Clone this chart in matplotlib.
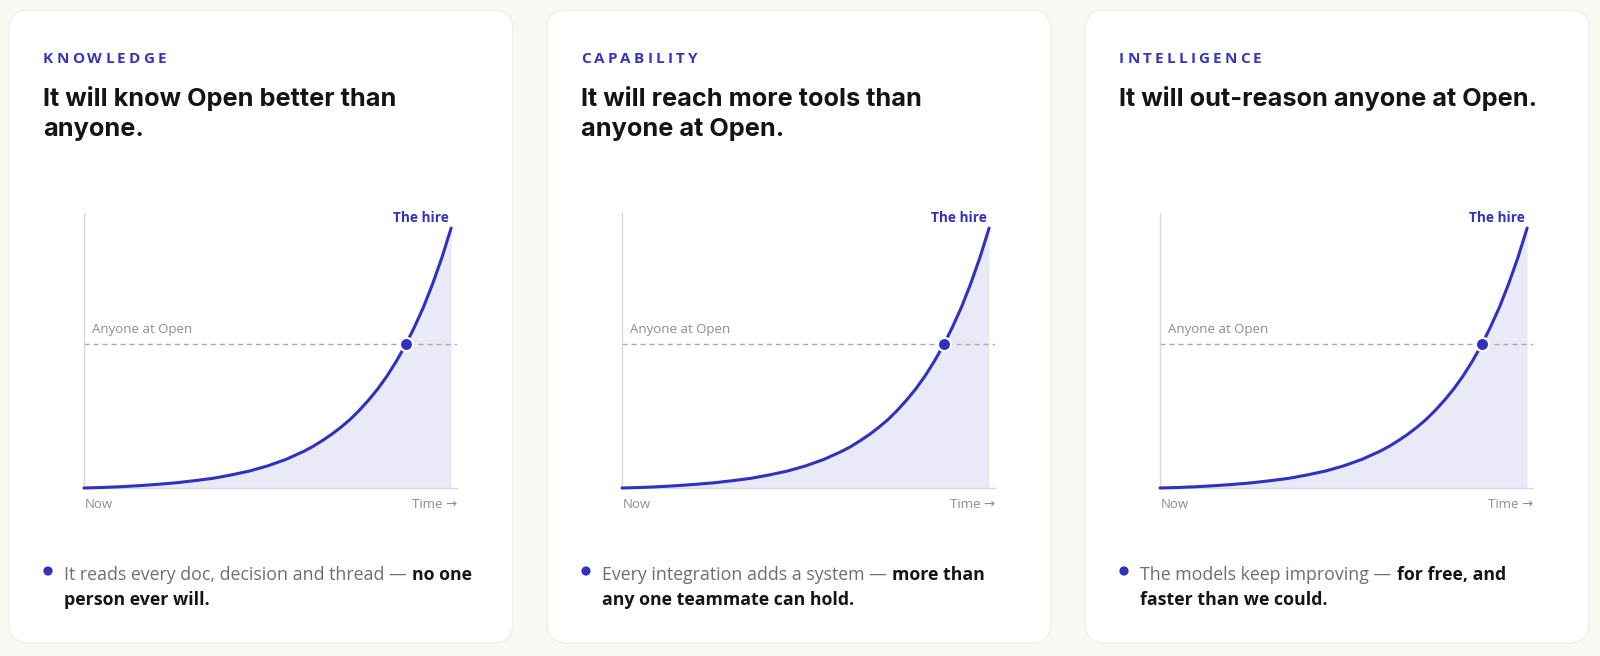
import matplotlib
matplotlib.use('Agg')
import matplotlib.pyplot as plt
from matplotlib.patches import FancyBboxPatch, Circle

# growth curve (time as fraction of the axis, value in % of end point)
time_pts = [0.0, 0.05, 0.10, 0.15, 0.20, 0.25, 0.30, 0.35, 0.40, 0.45, 0.50,
            0.55, 0.60, 0.625, 0.65, 0.675, 0.70, 0.725, 0.75, 0.775, 0.80,
            0.825, 0.85, 0.875, 0.90, 0.925, 0.95, 0.975, 1.0]
hire_pts = [0.0, 0.2, 0.5, 0.9, 1.4, 2.0, 2.8, 3.7, 5.0, 6.5, 8.5,
            11.0, 14.2, 16.1, 18.3, 20.7, 23.4, 26.4, 29.9, 33.8, 38.1,
            43.0, 48.6, 54.8, 61.9, 69.7, 78.7, 88.7, 100.0]
anyone_level = 55.4
cross_t = 0.877
t_max = 1.016
y_max = 105.8

eyebrows = ['KNOWLEDGE', 'CAPABILITY', 'INTELLIGENCE']
titles = [['It will know Open better than', 'anyone.'],
          ['It will reach more tools than', 'anyone at Open.'],
          ['It will out-reason anyone at Open.']]
notes_plain = ['It reads every doc, decision and thread \u2014',
               'Every integration adds a system \u2014',
               'The models keep improving \u2014']
notes_bold1 = ['no one', 'more than', 'for free, and']
notes_bold2 = ['person ever will.', 'any one teammate can hold.', 'faster than we could.']

BLUE = '#3131BF'
W, H = 1600, 656
SANS = ['Open Sans', 'DejaVu Sans']
HEAD = ['Inter', 'DejaVu Sans']

fig = plt.figure(figsize=(16, 6.56), dpi=100)
fig.patch.set_facecolor('#F9F9F4')
bg = fig.add_axes([0, 0, 1, 1])
bg.set_xlim(0, W)
bg.set_ylim(H, 0)
bg.axis('off')


def spaced(x, y, s, gap, **kw):
    # letter-spaced text: chain each glyph after the previous one
    t = bg.text(x, y, s[0], va='baseline', **kw)
    for ch in s[1:]:
        t = bg.annotate(ch, xy=(1, y), xycoords=(t, 'data'), xytext=(gap, 0),
                        textcoords='offset points', va='baseline', **kw)


def chain(prev, y, s, gap, **kw):
    return bg.annotate(s, xy=(1, y), xycoords=(prev, 'data'), xytext=(gap, 0),
                       textcoords='offset points', va='baseline', **kw)


for i in range(3):
    off = 538 * i
    bg.add_patch(FancyBboxPatch((9 + off, 10), 504, 633,
                                boxstyle='round,pad=0,rounding_size=20',
                                fc='white', ec='#EFEFEA', lw=1))

    spaced(43 + off, 63, eyebrows[i], 2.3, family=SANS, weight='bold',
           fontsize=11, color='#3636B8')
    for j, line in enumerate(titles[i]):
        bg.text(43 + off, 106 + 30 * j, line, family=HEAD, weight='bold',
                fontsize=18.2, color='#141414', va='baseline')

    # chart
    ax = fig.add_axes([(84 + off) / W, 1 - 488 / H, 373 / W, 275 / H])
    ax.patch.set_alpha(0)
    ax.set_xlim(0, t_max)
    ax.set_ylim(0, y_max)
    ax.fill_between(time_pts, hire_pts, color='#E9E9F8', lw=0)
    ax.axhline(anyone_level, color='#A9A9A9', lw=1, dashes=(3.6, 2.9))
    ax.plot(time_pts, hire_pts, color=BLUE, lw=2.2, clip_on=False,
            solid_capstyle='round', solid_joinstyle='round', zorder=4)
    ax.plot([cross_t], [anyone_level], 'o', ms=9.5, mfc=BLUE, mec='white',
            mew=1.6, zorder=5, clip_on=False)
    for side in ['top', 'right']:
        ax.spines[side].set_visible(False)
    for side in ['left', 'bottom']:
        ax.spines[side].set_color('#D9D9DD')
        ax.spines[side].set_linewidth(1)
    ax.set_xticks([])
    ax.set_yticks([])

    bg.text(92 + off, 333, 'Anyone at Open', family=SANS, fontsize=9.5,
            color='#8C8C8C', va='baseline')
    bg.text(449 + off, 222, 'The hire', family=SANS, weight='bold',
            fontsize=9.8, color=BLUE, va='baseline', ha='right')
    bg.text(85 + off, 508, 'Now', family=SANS, fontsize=9.5,
            color='#8C8C8C', va='baseline')
    bg.text(457 + off, 508, 'Time \u2192', family=SANS, fontsize=9.5,
            color='#8C8C8C', va='baseline', ha='right')

    # note below the chart
    bg.add_patch(Circle((48 + off, 571), 4.6, color=BLUE, lw=0))
    t = bg.text(64 + off, 580, notes_plain[i], family=SANS, fontsize=12.8,
                color='#6E6E6E', va='baseline')
    chain(t, 580, notes_bold1[i], 4, family=SANS, weight='bold',
          fontsize=12.8, color='#151515')
    bg.text(64 + off, 605, notes_bold2[i], family=SANS, weight='bold',
            fontsize=12.8, color='#151515', va='baseline')

fig.savefig('out.png', dpi=100, facecolor=fig.get_facecolor())
